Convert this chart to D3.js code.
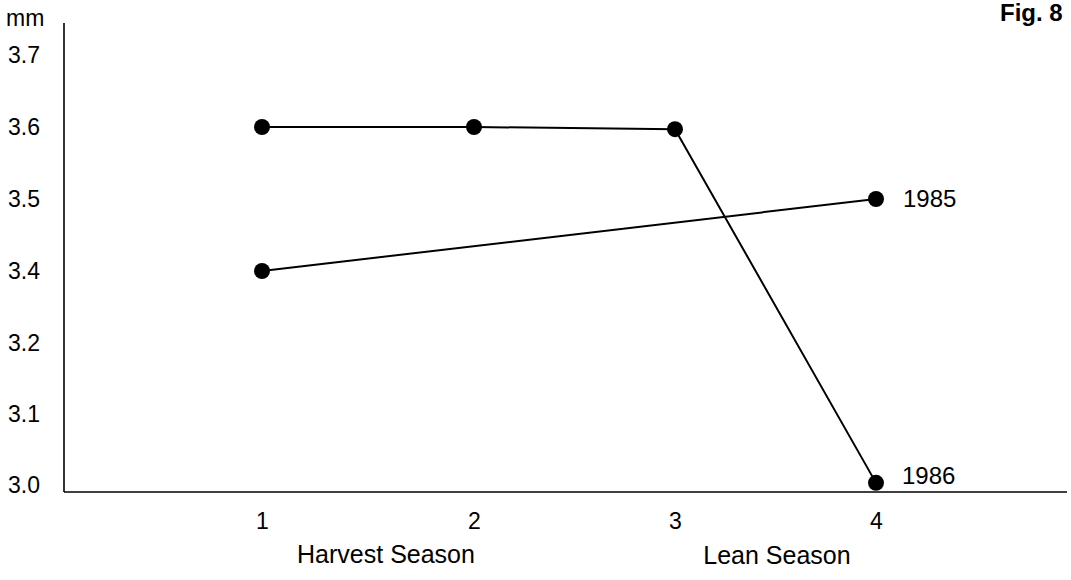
<!DOCTYPE html>
<html>
<head>
<meta charset="utf-8">
<script src="https://cdn.jsdelivr.net/npm/d3@7"></script>
<style>
  html, body { margin: 0; padding: 0; background: #fff; }
  svg { display: block; }
  text { font-family: "Liberation Sans", Arial, Helvetica, sans-serif; fill: #000; }
</style>
</head>
<body>
<svg id="chart" width="1071" height="580"></svg>
<script>
// ---- data ----
const xCategories = [1, 2, 3, 4];
const xTickLabels = ["1", "2", "3", "4"];
const yTickValues = [3.0, 3.1, 3.2, 3.4, 3.5, 3.6, 3.7];
const yTickLabels = ["3.0", "3.1", "3.2", "3.4", "3.5", "3.6", "3.7"];
const series1985X = [1, 4];
const series1985Y = [3.4, 3.5];
const series1986X = [1, 2, 3, 4];
const series1986Y = [3.6, 3.6, 3.597, 3.003];
const seriesNames = ["1985", "1986"];
const xGroupLabels = ["Harvest Season", "Lean Season"];
const yUnit = "mm";
const figLabel = "Fig. 8";

// ---- layout ----
const svg = d3.select("#chart");
const axisX = 64, axisBottom = 492, axisTop = 23, axisRight = 1067;

// piecewise scales (the original axis skips 3.3)
const y = d3.scaleLinear().domain([3.0, 3.2, 3.4, 3.7]).range([485, 343, 271, 55]);
const x = d3.scaleLinear().domain([1, 2, 4]).range([262, 474, 876]);

// axis lines
svg.append("line").attr("x1", axisX).attr("x2", axisX).attr("y1", axisTop).attr("y2", axisBottom)
  .attr("stroke", "#000").attr("stroke-width", 1.6);
svg.append("line").attr("x1", axisX).attr("x2", axisRight).attr("y1", axisBottom).attr("y2", axisBottom)
  .attr("stroke", "#000").attr("stroke-width", 1.6);

// y axis ticks
const yAxis = d3.axisLeft(y).tickValues(yTickValues)
  .tickFormat((d, i) => yTickLabels[i]).tickSize(0).tickPadding(24);
const gy = svg.append("g").attr("transform", `translate(${axisX},0)`).call(yAxis);
gy.select(".domain").remove();
gy.selectAll("text").style("font-size", "23px").style("font-family", "'Liberation Sans', Arial, sans-serif");

// x axis ticks
const xAxis = d3.axisBottom(x).tickValues(xCategories)
  .tickFormat((d, i) => xTickLabels[i]).tickSize(0).tickPadding(21);
const gx = svg.append("g").attr("transform", `translate(0,${axisBottom})`).call(xAxis);
gx.select(".domain").remove();
gx.selectAll("text").style("font-size", "23px").style("font-family", "'Liberation Sans', Arial, sans-serif");

// group labels
svg.append("text").attr("x", 386).attr("y", 563).attr("text-anchor", "middle")
  .style("font-size", "25px").text(xGroupLabels[0]);
svg.append("text").attr("x", 777).attr("y", 564).attr("text-anchor", "middle")
  .style("font-size", "25px").text(xGroupLabels[1]);

// unit and fig label
svg.append("text").attr("x", 6).attr("y", 26).style("font-size", "23px").text(yUnit);
svg.append("text").attr("x", 1000).attr("y", 21).style("font-size", "24px")
  .style("font-weight", "bold").text(figLabel);

// series
const line = d3.line().x(d => x(d[0])).y(d => y(d[1]));
const s1985 = series1985X.map((v, i) => [v, series1985Y[i]]);
const s1986 = series1986X.map((v, i) => [v, series1986Y[i]]);

[s1985, s1986].forEach(s => {
  svg.append("path").datum(s).attr("d", line).attr("fill", "none")
    .attr("stroke", "#000").attr("stroke-width", 2);
  svg.selectAll(null).data(s).enter().append("circle")
    .attr("cx", d => x(d[0])).attr("cy", d => y(d[1])).attr("r", 8).attr("fill", "#000");
});

// series labels
const last1985 = s1985[s1985.length - 1];
const last1986 = s1986[s1986.length - 1];
svg.append("text").attr("x", x(last1985[0]) + 27).attr("y", y(last1985[1]) + 8)
  .style("font-size", "24px").text(seriesNames[0]);
svg.append("text").attr("x", x(last1986[0]) + 26).attr("y", y(last1986[1]) + 1)
  .style("font-size", "24px").text(seriesNames[1]);
</script>
</body>
</html>
